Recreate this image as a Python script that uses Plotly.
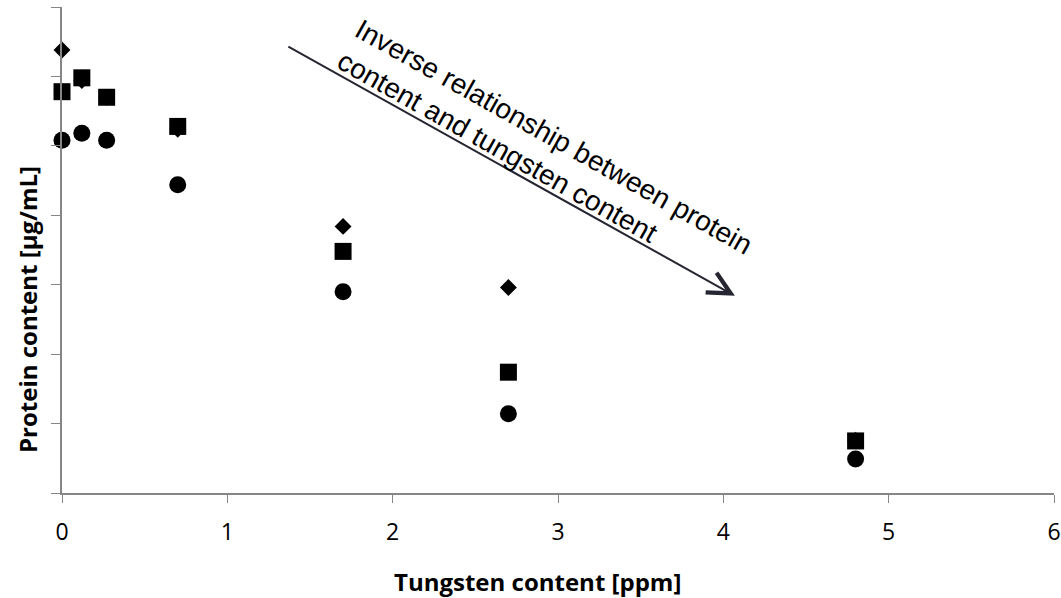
import plotly.graph_objects as go

# Data
tungsten_ppm = [0.0, 0.12, 0.27, 0.7, 1.7, 2.7, 4.8]
protein_diamond = [319, 297, 285, 262, 192, 148, 38]
protein_square = [289, 299, 285, 264, 174, 87, 37.5]
protein_circle = [254, 259, 254, 222, 145, 57, 24.5]

x_ticks = [0, 1, 2, 3, 4, 5, 6]
y_ticks = [0, 50, 100, 150, 200, 250, 300, 350]

x_title = "Tungsten content [ppm]"
y_title = "Protein content [µg/mL]"
note_text = "Inverse relationship between protein<br>content and tungsten content"

# arrow endpoints in data units
arrow_tail = (1.36, 322)
arrow_head = (4.07, 142)
note_pos = (2.92, 245)

fig = go.Figure()
fig.add_trace(go.Scatter(x=tungsten_ppm, y=protein_diamond, mode="markers", cliponaxis=False,
                         marker=dict(symbol="diamond", size=13, color="black", line=dict(width=0)),
                         name="Series 1"))
fig.add_trace(go.Scatter(x=tungsten_ppm, y=protein_square, mode="markers", cliponaxis=False,
                         marker=dict(symbol="square", size=17, color="black", line=dict(width=0)),
                         name="Series 2"))
fig.add_trace(go.Scatter(x=tungsten_ppm, y=protein_circle, mode="markers", cliponaxis=False,
                         marker=dict(symbol="circle", size=17, color="black", line=dict(width=0)),
                         name="Series 3"))

axis_col = "#868686"
fig.update_xaxes(range=[0, 6], tickvals=x_ticks, ticktext=[str(v) for v in x_ticks],
                 showgrid=False, zeroline=False, showline=True, linecolor=axis_col, linewidth=1.5,
                 ticks="outside", ticklen=8, tickwidth=1.3, tickcolor=axis_col,
                 ticklabelstandoff=10, automargin=False,
                 tickfont=dict(family="Open Sans, sans-serif", size=23, color="black"))
fig.update_yaxes(range=[0, 350], tickvals=y_ticks, showticklabels=False, automargin=False,
                 showgrid=False, zeroline=False, showline=True, linecolor=axis_col, linewidth=1.5,
                 ticks="outside", ticklen=9, tickwidth=1.3, tickcolor=axis_col)

fig.add_annotation(x=arrow_head[0], y=arrow_head[1], ax=arrow_tail[0], ay=arrow_tail[1],
                   xref="x", yref="y", axref="x", ayref="y", text="", showarrow=True,
                   arrowhead=5, arrowsize=2.2, arrowwidth=2, arrowcolor="#262633")
fig.add_annotation(x=note_pos[0], y=note_pos[1], xref="x", yref="y", text=note_text,
                   showarrow=False, textangle=29.3, align="left",
                   font=dict(family="Liberation Sans, Arial, sans-serif", size=28, color="black"))
fig.add_annotation(x=0.479, y=-0.183, xref="paper", yref="paper", text="<b>" + x_title + "</b>",
                   showarrow=False, xanchor="center", yanchor="middle",
                   font=dict(family="Open Sans, sans-serif", size=24, color="black"))
fig.add_annotation(x=-0.034, y=0.377, xref="paper", yref="paper", text="<b>" + y_title + "</b>",
                   showarrow=False, textangle=-90, xanchor="center", yanchor="middle",
                   font=dict(family="Open Sans, sans-serif", size=24, color="black"))

fig.update_layout(width=1061, height=598, showlegend=False,
                  paper_bgcolor="white", plot_bgcolor="white",
                  margin=dict(l=62, r=7, t=7, b=105))

fig.write_html("out.html", config={"displayModeBar": False},
               post_script="document.body.style.margin='0';")
